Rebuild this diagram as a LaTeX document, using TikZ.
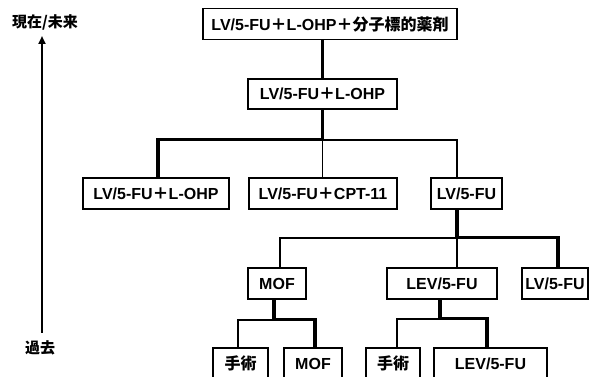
\documentclass[tikz,border=0pt]{standalone}
\usepackage{fontspec}
\setmainfont{Liberation Sans}
\newfontfamily\cjk{Noto Sans CJK JP}
\usetikzlibrary{arrows.meta,calc}
\newcommand{\pl}{{\cjk\bfseries ＋}}
\tikzset{
  box/.style={draw, line width=1.5pt, minimum height=31pt, inner sep=2pt, font=\fontsize{16}{18}\selectfont\bfseries, fill=white},
  thk/.style={line width=3.5pt},
  thn/.style={line width=1.6pt},
}
\begin{document}
\begin{tikzpicture}[x=1pt,y=-1pt]
\useasboundingbox (0,0) rectangle (590,377);
\clip (0,0) rectangle (590,377);
% time axis
\coordinate (ab) at (42,333);
\coordinate (at) at (42,36);
\draw[line width=2.8pt, -{Triangle[length=8pt,width=7pt]}] (ab) -- (at);
\node[font=\cjk\bfseries\fontsize{15}{17}\selectfont] (now) at (45,22) {現在/未来};
\node[font=\cjk\bfseries\fontsize{15}{17}\selectfont] (past) at (40,348) {過去};
% boxes
\node[box, minimum width=254pt] (top) at (330,24) {LV/5-FU\pl L-OHP\pl{\cjk 分子標的薬剤}};
\node[box, minimum width=149pt, minimum height=30pt] (l2) at (322.5,94) {LV/5-FU\pl L-OHP};
\node[box, minimum width=146pt] (r3a) at (156,193.5) {LV/5-FU\pl L-OHP};
\node[box, minimum width=148pt] (r3b) at (323,193.5) {LV/5-FU\pl CPT-11};
\node[box, minimum width=71pt] (r3c) at (466.5,193.5) {LV/5-FU};
\node[box, minimum width=58pt] (r4a) at (277,283.5) {MOF};
\node[box, minimum width=110pt] (r4b) at (442,283.5) {LEV/5-FU};
\node[box, minimum width=66pt] (r4c) at (555,283.5) {LV/5-FU};
\node[box, minimum width=55pt] (r5a) at (240.5,363.5) {{\cjk 手術}};
\node[box, minimum width=58pt] (r5b) at (313,363.5) {MOF};
\node[box, minimum width=54pt] (r5c) at (393,363.5) {{\cjk 手術}};
\node[box, minimum width=113pt] (r5d) at (490.5,363.5) {LEV/5-FU};
% connectors level 1-2
\draw[thk] (l2.north) -- (l2.north |- top.south);
% level 2-3
\coordinate (j1) at ($(l2.south)+(0,30)$);
\coordinate (c3a) at ([xshift=2pt]r3a.north);
\coordinate (c3c) at ([xshift=-9.5pt]r3c.north);
\draw[thn] (j1) -- (j1 -| c3c) -- (c3c);
\draw[thn] (j1) -- (j1 |- r3b.north);
\draw[thk] (l2.south) -- (j1) -- (j1 -| c3a) -- (c3a);
% level 3-4
\coordinate (d3c) at ([xshift=-9.5pt]r3c.south);
\coordinate (j2) at ($(d3c)+(0,28)$);
\coordinate (c4a) at ([xshift=3pt]r4a.north);
\coordinate (c4b) at ([xshift=15pt]r4b.north);
\coordinate (c4c) at ([xshift=3pt]r4c.north);
\draw[thn] (j2) -- (j2 -| c4a) -- (c4a);
\draw[thn] (j2) -- (c4b);
\draw[thk] (d3c) -- (j2) -- (j2 -| c4c) -- (c4c);
% level 4-5 (MOF)
\coordinate (d4a) at ([xshift=-3pt]r4a.south);
\coordinate (j3) at ($(d4a)+(0,20)$);
\coordinate (c5a) at ([xshift=-2.5pt]r5a.north);
\coordinate (c5b) at ([xshift=2pt]r5b.north);
\draw[thn] (j3) -- (j3 -| c5a) -- (c5a);
\draw[thk] (d4a) -- (j3) -- (j3 -| c5b) -- (c5b);
% level 4-5 (LEV)
\coordinate (d4b) at ([xshift=-2pt]r4b.south);
\coordinate (j4) at ($(d4b)+(0,19)$);
\coordinate (c5c) at ([xshift=4pt]r5c.north);
\coordinate (c5d) at ([xshift=-3.5pt]r5d.north);
\draw[thn] (j4) -- (j4 -| c5c) -- (c5c);
\draw[thk] (d4b) -- (j4) -- (j4 -| c5d) -- (c5d);
\end{tikzpicture}
\end{document}
